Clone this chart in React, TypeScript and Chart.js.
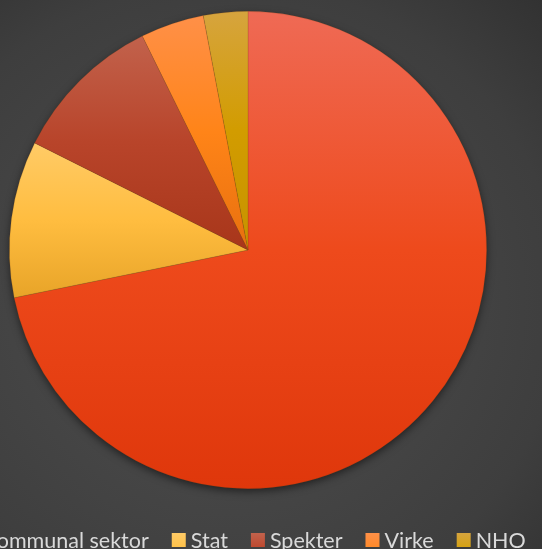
import React, { useEffect, useRef } from "react";
import { Chart, registerables } from "chart.js";

Chart.register(...registerables);

const categories = ["Kommunal sektor", "Stat", "Spekter", "Virke", "NHO"];
const shares = [71.8, 10.6, 10.3, 4.3, 3.0];
// top / middle / bottom gradient colours per slice
const topColors = ["#EF6A55", "#FFCB66", "#C2624C", "#FF9048", "#D6A43E"];
const midColors = ["#EE4A1C", "#FFBD40", "#B8442A", "#FF8418", "#D29C00"];
const bottomColors = ["#DF370B", "#E8A428", "#A8361A", "#E8700E", "#C79200"];
const legendColors = ["#EE4A1C", "#FFC24A", "#BE4A30", "#FF8A2A", "#D5A214"];

function sliceGradient(ctx: any) {
  const chart = ctx.chart;
  const area = chart.chartArea;
  const i = ctx.dataIndex;
  if (!area || i === undefined) return midColors[i ?? 0];
  const cx = (area.left + area.right) / 2;
  const cy = (area.top + area.bottom) / 2;
  const r = Math.min(area.right - area.left, area.bottom - area.top) / 2;
  const data: number[] = chart.data.datasets[0].data as number[];
  const total = data.reduce((a, b) => a + b, 0);
  let start = -Math.PI / 2;
  for (let k = 0; k < i; k++) start += (data[k] / total) * Math.PI * 2;
  const end = start + (data[i] / total) * Math.PI * 2;
  const ys = [cy, cy + r * Math.sin(start), cy + r * Math.sin(end)];
  const within = (a: number) => {
    let t = a;
    while (t < start) t += Math.PI * 2;
    return t <= end;
  };
  if (within(-Math.PI / 2)) ys.push(cy - r);
  if (within(Math.PI / 2)) ys.push(cy + r);
  const minY = Math.min(...ys);
  const maxY = Math.max(...ys);
  const g = chart.ctx.createLinearGradient(0, minY, 0, maxY + 0.01);
  g.addColorStop(0, topColors[i]);
  g.addColorStop(0.5, midColors[i]);
  g.addColorStop(1, bottomColors[i]);
  return g;
}

const shadowPlugin = {
  id: "pieShadow",
  beforeDatasetsDraw(chart: any) {
    const meta = chart.getDatasetMeta(0);
    const arc = meta.data[0];
    if (!arc) return;
    const { x, y, outerRadius } = arc.getProps(["x", "y", "outerRadius"], true);
    const c = chart.ctx;
    c.save();
    c.shadowColor = "rgba(0,0,0,0.55)";
    c.shadowBlur = 9;
    c.shadowOffsetY = 3;
    c.fillStyle = "#333";
    c.beginPath();
    c.arc(x, y, outerRadius - 0.5, 0, Math.PI * 2);
    c.fill();
    c.restore();
  },
};

const legendPlugin = {
  id: "bottomLegend",
  afterDraw(chart: any) {
    const c = chart.ctx;
    const labels: string[] = chart.data.labels;
    c.save();
    c.font = "21.5px Lato, 'Open Sans', sans-serif";
    const box = 14;
    const gapText = 5;
    const gapItem = 23;
    const widths = labels.map((l) => c.measureText(l).width);
    const total =
      widths.reduce((a, b) => a + b, 0) +
      labels.length * (box + gapText) +
      (labels.length - 1) * gapItem;
    let x = 245 - total / 2;
    const baseline = 548;
    labels.forEach((l, i) => {
      const g = c.createLinearGradient(0, baseline - 15, 0, baseline - 1);
      g.addColorStop(0, topColors[i]);
      g.addColorStop(1, legendColors[i]);
      c.fillStyle = g;
      c.fillRect(x, baseline - 15, box, box);
      x += box + gapText;
      c.fillStyle = "#D9D9D9";
      c.textBaseline = "alphabetic";
      c.fillText(l, x, baseline);
      x += widths[i] + gapItem;
    });
    c.restore();
  },
};

export default function App() {
  const ref = useRef<HTMLCanvasElement | null>(null);
  useEffect(() => {
    if (!ref.current) return;
    const chart = new Chart(ref.current, {
      type: "pie",
      data: {
        labels: categories,
        datasets: [
          {
            data: shares,
            backgroundColor: sliceGradient as any,
            borderColor: "rgba(120,60,15,0.28)",
            borderWidth: 0.7,
          },
        ],
      },
      options: {
        animation: false,
        responsive: true,
        maintainAspectRatio: false,
        layout: { padding: { left: 9, top: 11, right: 55, bottom: 60 } },
        plugins: {
          legend: { display: false },
          tooltip: { enabled: false },
        },
      },
      plugins: [shadowPlugin, legendPlugin],
    });
    return () => chart.destroy();
  }, []);
  return (
    <div
      style={{
        position: "fixed",
        left: 0,
        top: 0,
        width: 542,
        height: 549,
        overflow: "hidden",
        background:
          "radial-gradient(ellipse at 42% 55%, #4a4a4a 0%, #454545 45%, #3e3e3e 75%, #323232 100%)",
      }}
    >
      <div style={{ position: "relative", width: 542, height: 549 }}>
        <canvas ref={ref} />
      </div>
    </div>
  );
}
